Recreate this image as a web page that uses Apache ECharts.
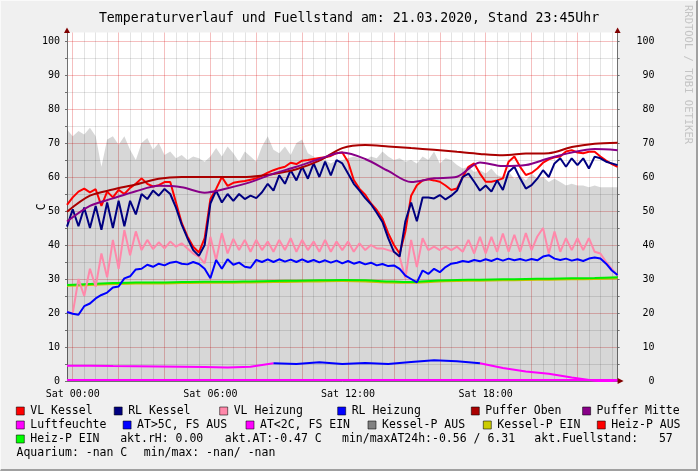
<!DOCTYPE html>
<html><head><meta charset="utf-8">
<script src="https://cdn.jsdelivr.net/npm/echarts@6/dist/echarts.min.js"></script>
<style>
html,body{margin:0;padding:0;background:#F0F0F0;}
#wrap{position:relative;width:698px;height:471px;overflow:hidden;}
#chart{position:absolute;left:0;top:0;width:698px;height:471px;}
#frame{position:absolute;left:0;top:0;width:698px;height:471px;box-sizing:border-box;border-top:1px solid #FAFAFA;border-left:1px solid #FAFAFA;border-right:2px solid #A0A0A0;border-bottom:2px solid #A0A0A0;pointer-events:none;}
</style></head><body>
<div id="wrap"><div id="chart"></div><div id="frame"></div></div>
<script>
// ---------- time axis (hours of 21.03.2020) ----------
const X_MIN = -0.25, X_MAX = 23.75, Y_MIN = 0, Y_MAX = 102.5;
const FINE_STEP = 0.25;          // 15-minute samples
const fineTimes = [];
for (let i = 0; i < 97; i++) fineTimes.push(X_MIN + i * FINE_STEP);
const hourTimes = [];            // hourly samples for the slow series
for (let k = 0; k < 25; k++) hourTimes.push(X_MIN + k);
const xTickLabels = {0: 'Sat 00:00', 6: 'Sat 06:00', 12: 'Sat 12:00', 18: 'Sat 18:00'};

// ---------- series values ----------
const vlKessel = [
 51.8,54.0,55.7,56.6,55.5,56.4,51.5,55.7,54.0,56.2,
 55.0,56.8,58.0,59.6,58.0,57.2,57.6,58.5,58.5,52.5,
 46.5,42.5,39.5,37.8,42.0,53.5,56.5,60.0,57.4,58.3,
 58.6,58.8,59.2,59.6,60.4,61.3,62.0,62.6,63.0,64.2,
 63.8,64.8,65.0,65.3,65.6,65.8,66.2,67.0,67.2,64.5,
 59.1,56.5,54.8,52.2,50.3,47.8,43.5,40.0,37.5,44.0,
 54.5,57.6,59.0,59.3,59.0,58.6,57.5,56.2,56.6,60.0,
 63.0,64.0,61.0,58.6,58.6,59.0,59.6,64.5,66.0,63.0,
 60.6,61.2,62.5,64.2,65.2,65.8,66.0,67.5,67.9,67.2,
 67.0,67.4,67.4,66.0,64.8,63.8,63.0];
const rlKessel = [
 45.4,50.5,45.5,51.0,45.0,51.5,44.5,52.5,45.0,53.0,
 45.5,53.0,49.0,55.0,53.5,56.0,54.5,56.5,55.0,51.0,
 46.0,42.0,38.5,36.8,40.0,52.2,56.0,52.5,55.0,53.0,
 55.0,53.5,54.5,53.8,55.5,58.0,56.0,60.5,58.0,62.0,
 59.0,63.0,59.5,64.0,60.0,64.5,60.5,65.0,64.0,61.0,
 58.0,56.0,53.8,52.0,49.5,46.8,42.0,38.0,36.6,47.0,
 52.5,47.0,54.0,54.0,53.7,54.7,53.4,54.5,56.0,60.0,
 61.0,58.6,56.0,57.5,55.7,59.0,56.2,61.5,63.0,59.6,
 56.6,57.6,59.5,62.0,60.0,64.0,65.5,63.0,65.5,63.5,
 65.5,62.5,66.0,65.5,64.5,64.0,63.5];
const vlHeizung = [
 20.4,19.9,30.0,25.0,33.0,27.7,37.5,30.5,41.5,33.0,
 44.4,37.0,44.0,38.5,41.5,38.8,40.8,39.0,41.0,39.5,
 40.5,39.0,37.5,36.6,34.6,42.4,35.5,43.5,37.5,41.8,
 38.5,41.5,38.0,41.5,38.5,41.0,38.0,41.5,38.5,42.0,
 38.0,41.5,38.5,41.0,38.0,41.5,38.0,41.0,38.5,41.0,
 38.0,40.5,38.5,40.0,39.0,39.0,38.5,38.0,36.5,30.2,
 41.5,33.5,42.0,38.5,39.5,38.5,39.5,38.5,39.5,38.0,
 41.5,37.5,42.4,37.5,42.4,38.0,43.4,38.0,43.0,38.0,
 43.5,38.5,42.5,45.0,37.5,44.0,38.0,42.0,38.5,42.0,
 38.5,42.0,38.0,37.5,35.0,33.0,31.0];
const rlHeizung = [
 20.3,19.8,19.5,22.0,22.8,24.3,25.3,26.0,27.5,27.8,
 30.2,30.8,32.8,33.0,34.2,33.6,34.5,34.0,34.8,35.1,
 34.5,34.3,35.0,34.4,33.0,30.2,35.6,33.0,35.8,34.2,
 34.8,33.6,33.3,35.6,35.0,35.8,35.0,35.8,35.1,35.7,
 35.0,35.8,35.0,35.6,34.9,35.5,34.8,35.4,34.6,35.3,
 34.5,35.0,34.3,34.8,34.0,34.4,33.8,34.0,33.0,31.0,
 30.0,29.0,32.5,31.5,33.0,32.0,33.5,34.5,34.8,35.3,
 35.0,35.6,35.2,35.8,35.3,36.0,35.4,36.0,35.5,35.9,
 35.4,35.9,35.5,36.6,37.0,36.0,35.6,36.0,35.4,35.8,
 35.3,36.0,36.3,36.0,34.5,32.5,31.2];
const fuellstand = [
 74,72,73.5,72.5,74.5,72,63,71,72,69.5,
 72,68,65,70,71.5,68,70,66.5,67.5,65.5,
 66.5,65,66,65.5,64.5,66,68.5,66,69,67,
 64.5,67.5,66,64.5,69,72,68,67,69,66.5,
 70,71,67,66,64.5,65,64,65,65,65.5,
 66,65.5,65,66,65.5,67.5,66,65,65.5,64.5,
 65,64,66,65,67.5,64,65.5,65,63.5,62.5,
 63,61.5,62,61,62.5,60.5,60,61.5,59.5,60.5,
 59,61,59.5,60,58.5,59.5,58.5,57.5,58,57.5,
 57.5,57,57.5,57,57,57,57];
const pufferOben = [49.8,54.5,56.3,57.8,59.5,60.0,60.0,60.0,60.1,60.9,62.3,64.8,68.5,69.4,69.0,68.5,68.0,67.4,66.8,66.4,66.9,67.0,68.8,69.8,70.1];
const pufferMitte = [46.9,51.5,53.7,55.8,57.4,57.0,55.4,56.7,58.5,61.0,63.0,65.3,67.2,65.3,61.8,58.5,59.6,60.1,64.3,63.2,63.5,65.5,67.2,68.2,67.9];
const heizPEin = [28.2,28.5,28.8,29.0,29.0,29.1,29.2,29.2,29.3,29.4,29.5,29.6,29.7,29.6,29.3,29.1,29.5,29.7,29.8,29.9,30.0,30.1,30.2,30.3,30.5];
const kesselPEin = [28.0,28.2,28.5,28.7,28.7,28.8,28.9,28.9,29.0,29.1,29.2,29.3,29.4,29.3,29.0,28.9,29.2,29.4,29.5,29.6,29.7,29.8,29.9,30.0,30.2];
const aussenTemp = [4.5,4.5,4.4,4.35,4.3,4.2,4.1,4.0,4.2,5.2,5.0,5.5,5.0,5.3,5.0,5.6,6.1,5.8,5.2,3.85,2.8,2.1,1.0,0.1,-0.47];
const atWarmFrom = 9, atWarmTo = 18;   // sample range drawn in the "AT>5C" colour
const luftfeuchte = [0.3,0.3,0.3,0.3,0.3,0.3,0.3,0.3,0.3,0.3,0.3,0.3,0.3,0.3,0.3,0.3,0.3,0.3,0.3,0.3,0.3,0.3,0.3,0.3,0.3];

// ---------- legend texts ----------
const legendLabels = ['VL Kessel','RL Kessel','VL Heizung','RL Heizung','Puffer Oben','Puffer Mitte',
  'Luftfeuchte','AT>5C, FS AUS','AT<2C, FS EIN','Kessel-P AUS','Kessel-P EIN','Heiz-P AUS','Heiz-P EIN'];
const legendColors = ['#FF0000','#000080','#FF88AA','#0000FF','#AA0000','#880088',
  '#FF00FF','#0000FF','#FF00FF','#808080','#CCCC00','#FF0000','#00FF00'];
const statTexts = ['akt.rH: 0.00','akt.AT:-0.47 C','min/maxAT24h:-0.56 / 6.31','akt.Fuellstand:   57',
  'Aquarium: -nan C','min/max: -nan/ -nan'];
const titleText = 'Temperaturverlauf und Fuellstand am: 21.03.2020, Stand 23:45Uhr';
const yUnit = 'C';

// ---------- layout ----------
const GRID = {left: 67, right: 80.4, top: 32.5, bottom: 90};
const W = 698, H = 471;
const plotL = GRID.left, plotR = W - GRID.right, plotT = GRID.top, plotB = H - GRID.bottom;
const legendTextX = [30.3,128.2,233.7,351.7,485.3,596.6, 30.3,137.1,260,382,497.3,611.3, 30.3];
const legendRowY  = [411,411,411,411,411,411, 425,425,425,425,425,425, 439];
const statX = [120.2,224.8,342,534.3,16.5,143.8];
const statY = [439,439,439,439,453,453];
const MONO = '"DejaVu Sans Mono", monospace';
const LEG_FONT = '11.5px ' + MONO;

function pairs(times, vals) {
  if (times.length !== vals.length) throw new Error('length mismatch ' + vals.length + ' vs ' + times.length);
  return times.map((t, i) => [t, vals[i]]);
}
function part(times, vals, from, to, inside) {
  return pairs(times, vals).map((p, i) => {
    const isIn = i >= from && i <= to;
    return (inside ? isIn : (i <= from || i >= to)) ? p : [p[0], null];
  });
}

const RED_GRID = 'rgba(215,0,0,0.25)';
const GRAY_GRID = 'rgba(0,0,0,0.11)';
const NONE = 'rgba(0,0,0,0)';
const vColors = [NONE, RED_GRID, NONE, GRAY_GRID, NONE, GRAY_GRID, NONE, GRAY_GRID];
const hColors = [];
for (let i = 0; i <= 20; i++) hColors.push(i % 2 === 0 ? RED_GRID : GRAY_GRID);
hColors.push(NONE);

function lineSeries(name, data, color, width, extra) {
  return Object.assign({
    name, type: 'line', data, showSymbol: false, symbol: 'none', connectNulls: false,
    lineStyle: {color, width}, itemStyle: {color}, silent: true, animation: false
  }, extra || {});
}

// ---------- decorations: arrows, legend, watermark, unit ----------
const ARROW = '#800000';
const g = [];
function tri(points) { g.push({type: 'polygon', shape: {points}, style: {fill: ARROW}, silent: true, z: 100}); }
tri([[plotL, plotT - 5], [plotL - 3, plotT + 0.5], [plotL + 3, plotT + 0.5]]);
tri([[plotR, plotT - 5], [plotR - 3, plotT + 0.5], [plotR + 3, plotT + 0.5]]);
tri([[plotR + 6, plotB], [plotR, plotB - 3], [plotR, plotB + 3]]);
legendLabels.forEach((lab, i) => {
  const x = legendTextX[i], y = legendRowY[i];
  g.push({type: 'rect', shape: {x: x - 14, y: y - 4, width: 8, height: 8},
    style: {fill: legendColors[i], stroke: 'rgba(0,0,0,0.55)', lineWidth: 1}, silent: true, z: 100});
  g.push({type: 'text', x: x, y: y, style: {text: lab, font: LEG_FONT, fill: '#000', align: 'left', verticalAlign: 'middle'}, silent: true, z: 100});
});
statTexts.forEach((t, i) => {
  g.push({type: 'text', x: statX[i], y: statY[i], style: {text: t, font: LEG_FONT, fill: '#000', align: 'left', verticalAlign: 'middle'}, silent: true, z: 100});
});
g.push({type: 'text', x: 688, y: 5, rotation: -Math.PI / 2,
  style: {text: 'RRDTOOL / TOBI OETIKER', font: '10.5px ' + MONO, fill: '#C4C4C4', align: 'left', verticalAlign: 'middle'}, silent: true, z: 100});
g.push({type: 'text', x: 42, y: (plotT + plotB) / 2, rotation: Math.PI / 2,
  style: {text: yUnit, font: '11.5px ' + MONO, fill: '#000', align: 'center', verticalAlign: 'middle'}, silent: true, z: 100});

const chart = echarts.init(document.getElementById('chart'), null, {renderer: 'canvas'});
const yAxisBase = {
  type: 'value', min: Y_MIN, max: Y_MAX, interval: 5,
  axisLine: {show: true, onZero: false, lineStyle: {color: '#707070', width: 1}},
  axisTick: {show: true, length: 2, lineStyle: {color: '#707070'}},
};
const yFmt = v => (Math.abs(v % 10) < 1e-6 ? String(v) : '');
const option = {
  backgroundColor: '#F0F0F0',
  animation: false,
  title: {
    text: titleText, left: 'center', top: 7,
    textStyle: {fontFamily: MONO, fontSize: 13.2, fontWeight: 'normal', color: '#000'}
  },
  grid: Object.assign({backgroundColor: '#FFFFFF', show: true, borderWidth: 0}, GRID),
  xAxis: {
    type: 'value', min: X_MIN, max: X_MAX, interval: FINE_STEP,
    axisLine: {show: true, onZero: false, lineStyle: {color: '#707070', width: 1}},
    axisTick: {show: false},
    splitLine: {show: true, lineStyle: {color: vColors, width: 1}},
    axisLabel: {
      fontFamily: MONO, fontSize: 10, color: '#000', margin: 8,
      formatter: v => {
        const r = Math.round(v);
        return (Math.abs(v - r) < 1e-6 && xTickLabels[r] !== undefined) ? xTickLabels[r] : '';
      }
    }
  },
  yAxis: [
    Object.assign({}, yAxisBase, {
      position: 'left',
      splitLine: {show: true, lineStyle: {color: hColors, width: 1}},
      axisLabel: {fontFamily: MONO, fontSize: 10, color: '#000', margin: 7, formatter: yFmt}
    }),
    Object.assign({}, yAxisBase, {
      position: 'right',
      splitLine: {show: false},
      axisLabel: {fontFamily: MONO, fontSize: 10, color: '#000', margin: 37, align: 'right', formatter: yFmt}
    })
  ],
  graphic: g,
  series: [
    {name: 'Fuellstand', type: 'line', data: pairs(fineTimes, fuellstand), showSymbol: false, symbol: 'none',
     lineStyle: {width: 0}, areaStyle: {color: 'rgba(0,0,0,0.155)', opacity: 1, origin: 'start'}, silent: true, animation: false},
    lineSeries('Kessel-P EIN', pairs(hourTimes, kesselPEin), '#C8C000', 2, {smooth: 0.3}),
    lineSeries('Heiz-P EIN', pairs(hourTimes, heizPEin), '#00EE00', 2, {smooth: 0.3}),
    lineSeries('VL Heizung', pairs(fineTimes, vlHeizung), '#FF88AA', 2),
    lineSeries('RL Heizung', pairs(fineTimes, rlHeizung), '#0000FF', 2),
    lineSeries('VL Kessel', pairs(fineTimes, vlKessel), '#FF0000', 2),
    lineSeries('RL Kessel', pairs(fineTimes, rlKessel), '#000080', 2),
    lineSeries('Puffer Oben', pairs(hourTimes, pufferOben), '#AA0000', 2, {smooth: 0.3}),
    lineSeries('Puffer Mitte', pairs(hourTimes, pufferMitte), '#880088', 2, {smooth: 0.3}),
    lineSeries('AT<2C, FS EIN', part(hourTimes, aussenTemp, atWarmFrom, atWarmTo, false), '#FF00FF', 2),
    lineSeries('AT>5C, FS AUS', part(hourTimes, aussenTemp, atWarmFrom, atWarmTo, true), '#0000FF', 2),
    lineSeries('Luftfeuchte', pairs(hourTimes, luftfeuchte), '#FF00FF', 2)
  ]
};
chart.setOption(option);
</script></body></html>
